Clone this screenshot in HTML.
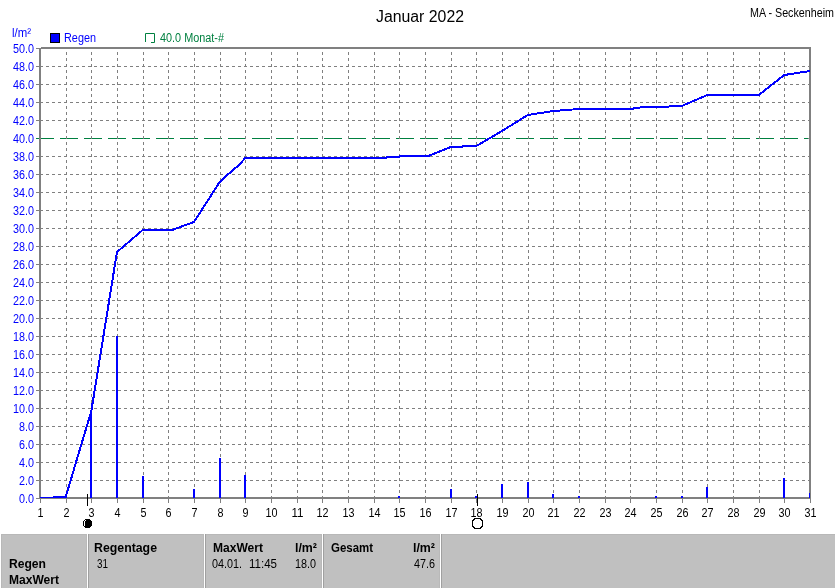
<!DOCTYPE html>
<html><head><meta charset="utf-8"><style>
html,body{margin:0;padding:0;background:#fff;width:835px;height:588px;overflow:hidden}
svg{display:block;font-family:"Liberation Sans",sans-serif;will-change:transform}
</style></head><body>
<svg width="835" height="588" viewBox="0 0 835 588">
<path d="M46 480.5H809M46 462.5H809M46 444.5H809M46 426.5H809M46 408.5H809M46 390.5H809M46 372.5H809M46 354.5H809M46 336.5H809M46 318.5H809M46 300.5H809M46 282.5H809M46 264.5H809M46 246.5H809M46 228.5H809M46 210.5H809M46 192.5H809M46 174.5H809M46 156.5H809M46 138.5H809M46 120.5H809M46 102.5H809M46 84.5H809M46 66.5H809" stroke="#808080" stroke-width="1" stroke-dasharray="3 3" fill="none"/><path d="M36 498.5H43M36 480.5H43M36 462.5H43M36 444.5H43M36 426.5H43M36 408.5H43M36 390.5H43M36 372.5H43M36 354.5H43M36 336.5H43M36 318.5H43M36 300.5H43M36 282.5H43M36 264.5H43M36 246.5H43M36 228.5H43M36 210.5H43M36 192.5H43M36 174.5H43M36 156.5H43M36 138.5H43M36 120.5H43M36 102.5H43M36 84.5H43M36 66.5H43M36 48.5H43" stroke="#808080" stroke-width="1" fill="none"/><path d="M41 138.5H808" stroke="#fff" stroke-width="1" fill="none"/><path d="M36 138.5H808" stroke="#008040" stroke-width="1" stroke-dasharray="18 6" fill="none"/><path d="M66.5 52V497M91.5 52V497M117.5 52V497M143.5 52V497M168.5 52V497M194.5 52V497M220.5 52V497M245.5 52V497M271.5 52V497M297.5 52V497M322.5 52V497M348.5 52V497M374.5 52V497M399.5 52V497M425.5 52V497M451.5 52V497M476.5 52V497M502.5 52V497M528.5 52V497M553.5 52V497M579.5 52V497M605.5 52V497M630.5 52V497M656.5 52V497M682.5 52V497M707.5 52V497M733.5 52V497M759.5 52V497M784.5 52V497" stroke="#808080" stroke-width="1" stroke-dasharray="3 3" fill="none"/><path d="M40.5 499V503M66.5 499V503M91.5 499V503M117.5 499V503M143.5 499V503M168.5 499V503M194.5 499V503M220.5 499V503M245.5 499V503M271.5 499V503M297.5 499V503M322.5 499V503M348.5 499V503M374.5 499V503M399.5 499V503M425.5 499V503M451.5 499V503M476.5 499V503M502.5 499V503M528.5 499V503M553.5 499V503M579.5 499V503M605.5 499V503M630.5 499V503M656.5 499V503M682.5 499V503M707.5 499V503M733.5 499V503M759.5 499V503M784.5 499V503M810.5 499V503" stroke="#808080" stroke-width="1" fill="none"/><rect x="39" y="497" width="772" height="2" fill="#808080"/><rect x="90" y="413" width="2" height="85" fill="#0000ff"/><rect x="116" y="336" width="2" height="162" fill="#0000ff"/><rect x="142" y="476" width="2" height="22" fill="#0000ff"/><rect x="193" y="489" width="2" height="9" fill="#0000ff"/><rect x="219" y="458" width="2" height="40" fill="#0000ff"/><rect x="244" y="475" width="2" height="23" fill="#0000ff"/><rect x="398" y="496" width="2" height="2" fill="#0000ff"/><rect x="450" y="489" width="2" height="9" fill="#0000ff"/><rect x="475" y="496" width="2" height="2" fill="#0000ff"/><rect x="501" y="484" width="2" height="14" fill="#0000ff"/><rect x="527" y="482" width="2" height="16" fill="#0000ff"/><rect x="552" y="494" width="2" height="4" fill="#0000ff"/><rect x="578" y="496" width="2" height="2" fill="#0000ff"/><rect x="655" y="496" width="2" height="2" fill="#0000ff"/><rect x="681" y="496" width="2" height="2" fill="#0000ff"/><rect x="706" y="487" width="2" height="11" fill="#0000ff"/><rect x="783" y="478" width="2" height="20" fill="#0000ff"/><path d="M41 47h770v2H41z" fill="#808080"/><rect x="39" y="48" width="2" height="451" fill="#808080"/><rect x="809" y="47" width="2" height="452" fill="#808080"/><rect x="809" y="493" width="1" height="5" fill="#0000ff"/><rect x="40" y="497" width="13" height="1" fill="#0000ff"/><polyline points="52.83,497.00 65.67,497.00 91.33,411.00 117.00,252.00 142.67,230.00 172.18,230.00 175.01,229.00 182.71,226.00 188.61,224.00 194.00,222.00 219.67,182.00 226.08,176.00 238.92,165.00 245.33,158.00 386.50,158.00 387.01,157.00 399.33,157.00 399.85,156.00 428.08,156.00 450.67,147.00 462.22,147.00 463.50,146.00 476.33,146.00 502.00,131.00 527.67,115.00 553.33,111.00 579.00,109.00 630.33,109.00 643.17,107.00 656.00,107.00 681.67,106.00 707.33,95.00 758.67,95.00 784.33,75.00 810.00,71.00" stroke="#0000ff" stroke-width="2" fill="none" stroke-linejoin="miter" shape-rendering="crispEdges"/><path d="M87.5 494V506M477.5 494V506" stroke="#000" stroke-width="1"/><path d="M85 519h5v1h-5zM84 520h7v1h-7zM83 521h9v1h-9zM83 522h9v1h-9zM83 523h9v1h-9zM83 524h9v1h-9zM83 525h9v1h-9zM84 526h7v1h-7zM85 527h5v1h-5z" fill="#000" shape-rendering="crispEdges"/><path d="M85 520h1v1h-1zM84 521h1v1h-1zM84 522h1v1h-1zM84 523h1v1h-1zM84 524h1v1h-1zM84 525h1v1h-1z" fill="#fff" shape-rendering="crispEdges"/><path d="M474 518h7v1h-7zM473 519h2v1h-2zM480 519h2v1h-2zM472 520h2v1h-2zM481 520h2v1h-2zM472 521h1v1h-1zM482 521h1v1h-1zM472 522h1v1h-1zM482 522h1v1h-1zM472 523h1v1h-1zM482 523h1v1h-1zM472 524h1v1h-1zM482 524h1v1h-1zM472 525h1v1h-1zM482 525h1v1h-1zM472 526h2v1h-2zM481 526h2v1h-2zM473 527h2v1h-2zM480 527h2v1h-2zM474 528h7v1h-7z" fill="#000" shape-rendering="crispEdges"/><g fill="#0000ff" font-size="12"><text x="34" y="503" text-anchor="end" textLength="15" lengthAdjust="spacingAndGlyphs">0.0</text><text x="34" y="485" text-anchor="end" textLength="15" lengthAdjust="spacingAndGlyphs">2.0</text><text x="34" y="467" text-anchor="end" textLength="15" lengthAdjust="spacingAndGlyphs">4.0</text><text x="34" y="449" text-anchor="end" textLength="15" lengthAdjust="spacingAndGlyphs">6.0</text><text x="34" y="431" text-anchor="end" textLength="15" lengthAdjust="spacingAndGlyphs">8.0</text><text x="34" y="413" text-anchor="end" textLength="21" lengthAdjust="spacingAndGlyphs">10.0</text><text x="34" y="395" text-anchor="end" textLength="21" lengthAdjust="spacingAndGlyphs">12.0</text><text x="34" y="377" text-anchor="end" textLength="21" lengthAdjust="spacingAndGlyphs">14.0</text><text x="34" y="359" text-anchor="end" textLength="21" lengthAdjust="spacingAndGlyphs">16.0</text><text x="34" y="341" text-anchor="end" textLength="21" lengthAdjust="spacingAndGlyphs">18.0</text><text x="34" y="323" text-anchor="end" textLength="21" lengthAdjust="spacingAndGlyphs">20.0</text><text x="34" y="305" text-anchor="end" textLength="21" lengthAdjust="spacingAndGlyphs">22.0</text><text x="34" y="287" text-anchor="end" textLength="21" lengthAdjust="spacingAndGlyphs">24.0</text><text x="34" y="269" text-anchor="end" textLength="21" lengthAdjust="spacingAndGlyphs">26.0</text><text x="34" y="251" text-anchor="end" textLength="21" lengthAdjust="spacingAndGlyphs">28.0</text><text x="34" y="233" text-anchor="end" textLength="21" lengthAdjust="spacingAndGlyphs">30.0</text><text x="34" y="215" text-anchor="end" textLength="21" lengthAdjust="spacingAndGlyphs">32.0</text><text x="34" y="197" text-anchor="end" textLength="21" lengthAdjust="spacingAndGlyphs">34.0</text><text x="34" y="179" text-anchor="end" textLength="21" lengthAdjust="spacingAndGlyphs">36.0</text><text x="34" y="161" text-anchor="end" textLength="21" lengthAdjust="spacingAndGlyphs">38.0</text><text x="34" y="143" text-anchor="end" textLength="21" lengthAdjust="spacingAndGlyphs">40.0</text><text x="34" y="125" text-anchor="end" textLength="21" lengthAdjust="spacingAndGlyphs">42.0</text><text x="34" y="107" text-anchor="end" textLength="21" lengthAdjust="spacingAndGlyphs">44.0</text><text x="34" y="89" text-anchor="end" textLength="21" lengthAdjust="spacingAndGlyphs">46.0</text><text x="34" y="71" text-anchor="end" textLength="21" lengthAdjust="spacingAndGlyphs">48.0</text><text x="34" y="53" text-anchor="end" textLength="21" lengthAdjust="spacingAndGlyphs">50.0</text></g><g fill="#000" font-size="12"><text x="40.5" y="517" text-anchor="middle" textLength="6" lengthAdjust="spacingAndGlyphs">1</text><text x="66.5" y="517" text-anchor="middle" textLength="6" lengthAdjust="spacingAndGlyphs">2</text><text x="91.5" y="517" text-anchor="middle" textLength="6" lengthAdjust="spacingAndGlyphs">3</text><text x="117.5" y="517" text-anchor="middle" textLength="6" lengthAdjust="spacingAndGlyphs">4</text><text x="143.5" y="517" text-anchor="middle" textLength="6" lengthAdjust="spacingAndGlyphs">5</text><text x="168.5" y="517" text-anchor="middle" textLength="6" lengthAdjust="spacingAndGlyphs">6</text><text x="194.5" y="517" text-anchor="middle" textLength="6" lengthAdjust="spacingAndGlyphs">7</text><text x="220.5" y="517" text-anchor="middle" textLength="6" lengthAdjust="spacingAndGlyphs">8</text><text x="245.5" y="517" text-anchor="middle" textLength="6" lengthAdjust="spacingAndGlyphs">9</text><text x="271.5" y="517" text-anchor="middle" textLength="12" lengthAdjust="spacingAndGlyphs">10</text><text x="297.5" y="517" text-anchor="middle" textLength="12" lengthAdjust="spacingAndGlyphs">11</text><text x="322.5" y="517" text-anchor="middle" textLength="12" lengthAdjust="spacingAndGlyphs">12</text><text x="348.5" y="517" text-anchor="middle" textLength="12" lengthAdjust="spacingAndGlyphs">13</text><text x="374.5" y="517" text-anchor="middle" textLength="12" lengthAdjust="spacingAndGlyphs">14</text><text x="399.5" y="517" text-anchor="middle" textLength="12" lengthAdjust="spacingAndGlyphs">15</text><text x="425.5" y="517" text-anchor="middle" textLength="12" lengthAdjust="spacingAndGlyphs">16</text><text x="451.5" y="517" text-anchor="middle" textLength="12" lengthAdjust="spacingAndGlyphs">17</text><text x="476.5" y="517" text-anchor="middle" textLength="12" lengthAdjust="spacingAndGlyphs">18</text><text x="502.5" y="517" text-anchor="middle" textLength="12" lengthAdjust="spacingAndGlyphs">19</text><text x="528.5" y="517" text-anchor="middle" textLength="12" lengthAdjust="spacingAndGlyphs">20</text><text x="553.5" y="517" text-anchor="middle" textLength="12" lengthAdjust="spacingAndGlyphs">21</text><text x="579.5" y="517" text-anchor="middle" textLength="12" lengthAdjust="spacingAndGlyphs">22</text><text x="605.5" y="517" text-anchor="middle" textLength="12" lengthAdjust="spacingAndGlyphs">23</text><text x="630.5" y="517" text-anchor="middle" textLength="12" lengthAdjust="spacingAndGlyphs">24</text><text x="656.5" y="517" text-anchor="middle" textLength="12" lengthAdjust="spacingAndGlyphs">25</text><text x="682.5" y="517" text-anchor="middle" textLength="12" lengthAdjust="spacingAndGlyphs">26</text><text x="707.5" y="517" text-anchor="middle" textLength="12" lengthAdjust="spacingAndGlyphs">27</text><text x="733.5" y="517" text-anchor="middle" textLength="12" lengthAdjust="spacingAndGlyphs">28</text><text x="759.5" y="517" text-anchor="middle" textLength="12" lengthAdjust="spacingAndGlyphs">29</text><text x="784.5" y="517" text-anchor="middle" textLength="12" lengthAdjust="spacingAndGlyphs">30</text><text x="810.5" y="517" text-anchor="middle" textLength="12" lengthAdjust="spacingAndGlyphs">31</text></g><text x="12" y="37" fill="#0000ff" font-size="12" textLength="19" lengthAdjust="spacingAndGlyphs">l/m²</text><rect x="50.5" y="33.5" width="9" height="9" fill="#0000ff" stroke="#000" stroke-width="1"/><text x="64" y="42" fill="#0000ff" font-size="12" textLength="32" lengthAdjust="spacingAndGlyphs">Regen</text><path d="M145.5 42V33.5H154.5V42.5H151" stroke="#008040" stroke-width="1" fill="none"/><text x="160" y="42" fill="#008040" font-size="12" textLength="64" lengthAdjust="spacingAndGlyphs">40.0 Monat-#</text><text x="376" y="21.5" fill="#000" font-size="16" textLength="88" lengthAdjust="spacingAndGlyphs">Januar 2022</text><text x="750" y="16.5" fill="#000" font-size="12" textLength="84" lengthAdjust="spacingAndGlyphs">MA - Seckenheim</text>
<g fill="#000" font-size="12"><rect x="1" y="534" width="834" height="54" fill="#c0c0c0"/><rect x="1" y="534" width="834" height="1" fill="#b8b8b8"/><rect x="1" y="534" width="1" height="54" fill="#b8b8b8"/><rect x="86" y="534" width="1" height="54" fill="#b9b9b9"/><rect x="87" y="534" width="1" height="54" fill="#ffffff"/><rect x="88" y="534" width="1" height="54" fill="#a0a0a0"/><rect x="203" y="534" width="1" height="54" fill="#b9b9b9"/><rect x="204" y="534" width="1" height="54" fill="#ffffff"/><rect x="205" y="534" width="1" height="54" fill="#a0a0a0"/><rect x="321" y="534" width="1" height="54" fill="#b9b9b9"/><rect x="322" y="534" width="1" height="54" fill="#ffffff"/><rect x="323" y="534" width="1" height="54" fill="#a0a0a0"/><rect x="439" y="534" width="1" height="54" fill="#b9b9b9"/><rect x="440" y="534" width="1" height="54" fill="#ffffff"/><rect x="441" y="534" width="1" height="54" fill="#a0a0a0"/><text x="9" y="568" font-weight="bold" text-anchor="start" textLength="37" lengthAdjust="spacingAndGlyphs">Regen</text><text x="9" y="584" font-weight="bold" text-anchor="start" textLength="50" lengthAdjust="spacingAndGlyphs">MaxWert</text><text x="94" y="552" font-weight="bold" text-anchor="start" textLength="63" lengthAdjust="spacingAndGlyphs">Regentage</text><text x="97" y="568" text-anchor="start" textLength="11" lengthAdjust="spacingAndGlyphs">31</text><text x="213" y="552" font-weight="bold" text-anchor="start" textLength="50" lengthAdjust="spacingAndGlyphs">MaxWert</text><text x="295" y="552" font-weight="bold" text-anchor="start" textLength="22" lengthAdjust="spacingAndGlyphs">l/m²</text><text x="212" y="568" text-anchor="start" textLength="30" lengthAdjust="spacingAndGlyphs">04.01.</text><text x="249" y="568" text-anchor="start" textLength="28" lengthAdjust="spacingAndGlyphs">11:45</text><text x="295" y="568" text-anchor="start" textLength="21" lengthAdjust="spacingAndGlyphs">18.0</text><text x="331" y="552" font-weight="bold" text-anchor="start" textLength="42" lengthAdjust="spacingAndGlyphs">Gesamt</text><text x="413" y="552" font-weight="bold" text-anchor="start" textLength="22" lengthAdjust="spacingAndGlyphs">l/m²</text><text x="414" y="568" text-anchor="start" textLength="21" lengthAdjust="spacingAndGlyphs">47.6</text></g>
</svg>
</body></html>
